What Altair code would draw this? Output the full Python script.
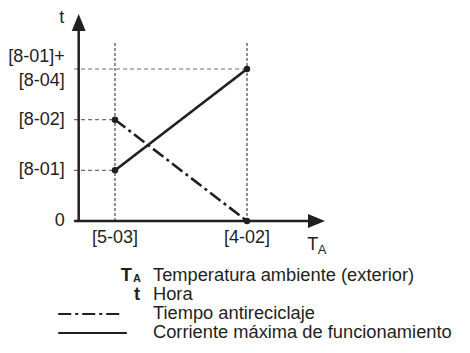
import altair as alt
import pandas as pd

# ---------------- data ----------------
ta_labels = ["[5-03]", "[4-02]"]
ta_pos = [1, 3]
t_labels = ["0", "[8-01]", "[8-02]"]
t_pos = [0, 1, 2]
t_top_label = "[8-01]+\n[8-04]"
t_top_pos = 3
antireciclaje_t = [2, 0]      # Tiempo antireciclaje at [5-03], [4-02]
corriente_t = [1, 3]          # Corriente máxima de funcionamiento at [5-03], [4-02]
series_names = ["Tiempo antireciclaje", "Corriente máxima de funcionamiento"]
legend_symbols = ["T", "t", "", ""]
legend_subs = ["A", "", "", ""]
legend_texts = ["Temperatura ambiente (exterior)", "Hora",
                "Tiempo antireciclaje", "Corriente máxima de funcionamiento"]

# ---------------- layout constants (data units) ----------------
W, H = 454, 337
X_DOM = [-0.621, -0.621 + W / 66]
Y_DOM = [-2.447, 4.204]
ORIGIN_X = 0.45
AXIS_X_START = 0.38
AXIS_X_END = 3.95
AXIS_Y_END = 3.85
ARROW_UP_Y = 3.917
ARROW_RIGHT_X = 4.053
GUIDE_TOP = 3.53
LEG_TOP = -1.085
LEG_STEP = 0.375
LEG_TEXT_X = 1.576
LEG_SYM_X = [1.258, 1.379, 0, 0]
LEG_LINE_START = 0.14
LEG_LINE_END = [1.11, 1.18]

INK = "#231f20"
FONT = "Liberation Sans"
FS = 18
LFS = 18.3

xs = alt.Scale(domain=X_DOM, nice=False, zero=False)
ys = alt.Scale(domain=Y_DOM, nice=False, zero=False)
X = lambda f: alt.X(f, type="quantitative", scale=xs, axis=None)
Y = lambda f: alt.Y(f, type="quantitative", scale=ys, axis=None)

# series data
rows = []
for name, vals in zip(series_names, [antireciclaje_t, corriente_t]):
    for p, v in zip(ta_pos, vals):
        rows.append({"serie": name, "ta": p, "t": v})
series_df = pd.DataFrame(rows)

dash_scale = alt.Scale(domain=series_names, range=[[13, 4, 3, 4], [1, 0]])

# axes
axes_df = pd.DataFrame([
    {"x": ORIGIN_X, "x2": ORIGIN_X, "y": 0, "y2": AXIS_Y_END},
    {"x": AXIS_X_START, "x2": AXIS_X_END, "y": 0, "y2": 0},
])
axes = alt.Chart(axes_df).mark_rule(color=INK, strokeWidth=2.5).encode(
    x=X("x"), x2="x2", y=Y("y"), y2="y2")

arrow_up = alt.Chart(pd.DataFrame([{"x": ORIGIN_X, "y": ARROW_UP_Y}])).mark_point(
    shape="M-0.82,1 L0,-1 L0.82,1 Z", size=289, filled=True, color=INK, opacity=1
).encode(x=X("x"), y=Y("y"))
arrow_right = alt.Chart(pd.DataFrame([{"x": ARROW_RIGHT_X, "y": 0}])).mark_point(
    shape="M-1,-0.82 L1,0 L-1,0.82 Z", size=289, filled=True, color=INK, opacity=1
).encode(x=X("x"), y=Y("y"))

# guide lines
vguide_df = pd.DataFrame({"x": ta_pos, "y": [0, 0], "y2": [GUIDE_TOP, GUIDE_TOP]})
vguides = alt.Chart(vguide_df).mark_rule(color=INK, strokeWidth=1, strokeDash=[3, 2]).encode(
    x=X("x"), y=Y("y"), y2="y2")
hguide_df = pd.DataFrame({"y": [1, 2, 3], "x": [AXIS_X_START] * 3, "x2": [1, 1, 3]})
hguides = alt.Chart(hguide_df).mark_rule(color="#6d6e70", strokeWidth=1.2, strokeDash=[4, 3]).encode(
    y=Y("y"), x=X("x"), x2="x2")

# series
lines = alt.Chart(series_df).mark_line(color=INK, strokeWidth=2.6).encode(
    x=X("ta"), y=Y("t"),
    strokeDash=alt.StrokeDash("serie:N", scale=dash_scale, legend=None),
    detail="serie:N")
points = alt.Chart(series_df).mark_circle(color=INK, size=42, opacity=1).encode(
    x=X("ta"), y=Y("t"))

# tick labels
ylab_df = pd.DataFrame({"t": t_pos, "label": t_labels, "x": [ORIGIN_X] * len(t_pos)})
ylabels = alt.Chart(ylab_df).mark_text(
    align="right", baseline="middle", dx=-14, font=FONT, fontSize=FS, color=INK).encode(
    x=X("x"), y=Y("t"), text="label:N")
ytop_df = pd.DataFrame([{"t": t_top_pos, "label": t_top_label, "x": ORIGIN_X}])
ytop = alt.Chart(ytop_df).mark_text(
    align="right", baseline="middle", dx=-14, dy=-12, font=FONT, fontSize=FS, color=INK,
    lineBreak="\n", lineHeight=24).encode(x=X("x"), y=Y("t"), text="label:N")
xlab_df = pd.DataFrame({"ta": ta_pos, "label": ta_labels, "y": [0, 0]})
xlabels = alt.Chart(xlab_df).mark_text(
    align="center", baseline="middle", dy=17, font=FONT, fontSize=FS, color=INK).encode(
    x=X("ta"), y=Y("y"), text="label:N")

# axis titles
t_title = alt.Chart(pd.DataFrame([{"x": ORIGIN_X, "y": 4.0, "s": "t"}])).mark_text(
    align="center", baseline="middle", dx=-17, font=FONT, fontSize=FS, color=INK).encode(
    x=X("x"), y=Y("y"), text="s:N")
ta_title = alt.Chart(pd.DataFrame([{"x": 3.995, "y": -0.48, "s": "T"}])).mark_text(
    align="center", baseline="middle", font=FONT, fontSize=FS, color=INK).encode(
    x=X("x"), y=Y("y"), text="s:N")
ta_sub = alt.Chart(pd.DataFrame([{"x": 3.995, "y": -0.48, "s": "A"}])).mark_text(
    align="left", baseline="middle", dx=5, dy=5, font=FONT, fontSize=13, color=INK).encode(
    x=X("x"), y=Y("y"), text="s:N")

# legend
leg_df = pd.DataFrame({"i": list(range(4)), "sym": legend_symbols, "sub": legend_subs,
                       "text": legend_texts, "sx": LEG_SYM_X})
leg_base = alt.Chart(leg_df).transform_calculate(
    ly=f"{LEG_TOP} - datum.i * {LEG_STEP}", tx=f"{LEG_TEXT_X}")
leg_text = leg_base.mark_text(align="left", baseline="middle", font=FONT, fontSize=LFS,
                              color=INK).encode(x=X("tx"), y=Y("ly"), text="text:N")
leg_sym = leg_base.mark_text(align="right", baseline="middle", font=FONT, fontSize=LFS,
                             fontWeight="bold", color=INK).encode(
    x=X("sx"), y=Y("ly"), text="sym:N")
leg_sub = leg_base.mark_text(align="left", baseline="middle", dx=1, dy=3, font=FONT,
                             fontSize=11, fontWeight="bold", color=INK).encode(
    x=X("sx"), y=Y("ly"), text="sub:N")

legline_rows = []
for k, name in enumerate(series_names):
    for xv in [LEG_LINE_START, LEG_LINE_END[k]]:
        legline_rows.append({"serie": name, "x": xv, "i": k + 2})
legline_df = pd.DataFrame(legline_rows)
leg_lines = alt.Chart(legline_df).transform_calculate(
    ly=f"{LEG_TOP} - datum.i * {LEG_STEP}").mark_line(color=INK, strokeWidth=2.2).encode(
    x=X("x"), y=Y("ly"),
    strokeDash=alt.StrokeDash("serie:N", scale=dash_scale, legend=None),
    detail="serie:N")

chart = alt.layer(
    hguides, vguides, axes, arrow_up, arrow_right, lines, points,
    ylabels, ytop, xlabels, t_title, ta_title, ta_sub,
    leg_text, leg_sym, leg_sub, leg_lines,
).properties(
    width=W, height=H, padding=0, autosize=alt.AutoSizeParams(type="none"),
    background="white"
).configure_view(stroke=None)

chart.save("out.html", embed_options={"renderer": "svg", "actions": False})
